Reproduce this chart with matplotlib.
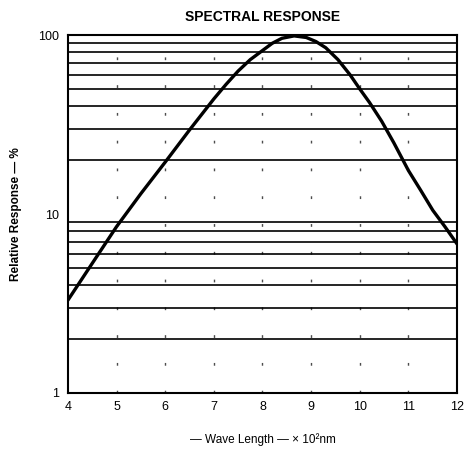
import numpy as np
import matplotlib
matplotlib.use("Agg")
import matplotlib.pyplot as plt

wave = [4.0, 4.5, 5.0, 5.5, 6.0, 6.5, 7.0, 7.25, 7.5, 7.75, 8.0, 8.2, 8.4, 8.65,
        8.9, 9.1, 9.3, 9.55, 9.8, 10.0, 10.2, 10.45, 10.7, 11.0, 11.25, 11.5,
        11.75, 12.0]
resp = [3.3, 5.3, 8.5, 13.0, 19.5, 29.5, 44.0, 53.0, 63.0, 73.0, 82.0, 90.0,
        96.0, 99.0, 97.0, 92.0, 85.0, 73.0, 60.0, 50.0, 42.0, 33.0, 25.0, 17.5,
        13.6, 10.5, 8.5, 6.8]

xticks = [4, 5, 6, 7, 8, 9, 10, 11, 12]
yticks = [1, 10, 100]
ytick_labels = ["1", "10", "100"]

plt.rcParams['font.family'] = ['Liberation Sans', 'DejaVu Sans']

fig = plt.figure(figsize=(4.65, 4.53), dpi=100)
ax = fig.add_axes([0.146, 0.1325, 0.837, 0.79])

ax.set_yscale("log")
ax.set_xlim(4, 12)
ax.set_ylim(1, 100)

# horizontal grid at every log step
for dec in [1, 10]:
    for k in range(2, 10):
        ax.axhline(k * dec, color="k", linewidth=1.2, zorder=1)

# faint broken vertical grid
for xv in xticks[1:-1]:
    ax.axvline(xv, color="k", linewidth=1.0, linestyle=(0, (2, 18)),
               alpha=0.7, zorder=1)

ax.plot(wave, resp, color="k", linewidth=2.4, solid_capstyle="round",
        solid_joinstyle="round", zorder=3)

ax.set_xticks(xticks)
ax.set_xticklabels([str(t) for t in xticks], fontsize=9)
ax.set_yticks(yticks)
ax.set_yticklabels(ytick_labels, fontsize=9)
ax.minorticks_off()
ax.tick_params(length=0, pad=6)
for s in ax.spines.values():
    s.set_linewidth(1.5)

ax.set_title("SPECTRAL RESPONSE", fontsize=10, fontweight="bold", pad=10)
ax.set_xlabel("\u2014 Wave Length \u2014 \u00d7 10\u00b2nm", fontsize=8.5, labelpad=14)
ax.set_ylabel("Relative Response \u2014 %", fontsize=8.5, fontweight="bold", labelpad=12)

fig.savefig("out.png", dpi=100)
